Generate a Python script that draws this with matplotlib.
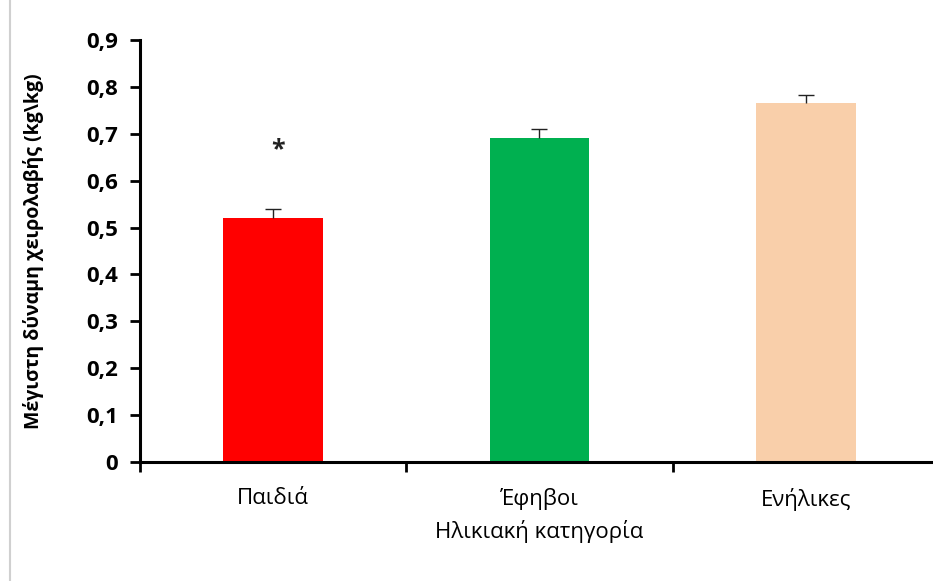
import matplotlib.pyplot as plt
from matplotlib.lines import Line2D

plt.rcParams['font.family'] = ['Open Sans', 'DejaVu Sans']

# age groups, mean relative grip strength and upper SE
groups = ['Παιδιά', 'Έφηβοι', 'Ενήλικες']
means = [0.52, 0.69, 0.765]
errors = [0.02, 0.02, 0.017]
colors = ['#FF0000', '#00B050', '#F9CFAA']
yticks = [0, 0.1, 0.2, 0.3, 0.4, 0.5, 0.6, 0.7, 0.8, 0.9]
ytick_labels = ['0', '0,1', '0,2', '0,3', '0,4', '0,5', '0,6', '0,7', '0,8', '0,9']
star_group = 0
star_y = 0.665

fig = plt.figure(figsize=(9.33, 5.81), dpi=100)
ax = fig.add_axes([140 / 933, 119 / 581, 799 / 933, 422 / 581])

x = range(len(groups))
ax.bar(x, means, width=0.375, color=colors, zorder=2)
eb = ax.errorbar(x, means, yerr=[[0] * len(errors), errors], fmt='none',
                 ecolor='#222222', elinewidth=1.0, capsize=6, capthick=1.0,
                 zorder=3)
# only the upper whisker is shown
eb[1][0].set_visible(False)
ax.text(star_group + 0.02, star_y, '*', ha='center', va='center',
        fontsize=18, fontweight='bold', color='#222222')

ax.set_xlim(-0.5, 2.5)
ax.set_ylim(0, 0.9)
ax.set_yticks(yticks)
ax.set_yticklabels(ytick_labels, fontsize=16, fontweight='bold')
ax.set_xticks([-0.5, 0.5, 1.5, 2.5])
ax.set_xticklabels([])
ax.set_xticks(list(x), minor=True)
ax.set_xticklabels(groups, minor=True, fontsize=16, fontweight='medium')
ax.tick_params(axis='x', which='minor', length=0, pad=19)
ax.tick_params(axis='x', which='major', length=7, width=2, direction='out')
ax.tick_params(axis='y', length=7, width=2, direction='out', pad=9)

for side in ['top', 'right']:
    ax.spines[side].set_visible(False)
for side in ['left', 'bottom']:
    ax.spines[side].set_linewidth(2.2)

ax.set_ylabel('Μέγιστη δύναμη χειρολαβής (kg\\kg)', fontsize=14,
              fontweight='bold', labelpad=30)
ax.set_xlabel('Ηλικιακή κατηγορία', fontsize=16, fontweight='medium',
              labelpad=6)

# thin page border on the left
fig.add_artist(Line2D([10 / 933, 10 / 933], [0, 1], color='#d0d0d0', lw=1.5))

fig.savefig('out.png', dpi=100)
